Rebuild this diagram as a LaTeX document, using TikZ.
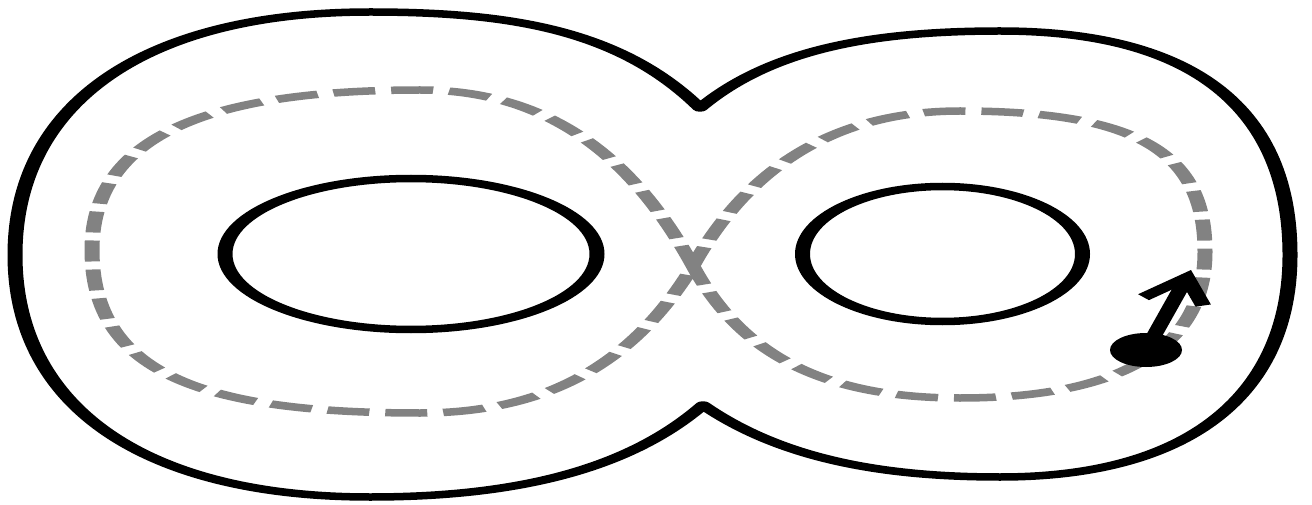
\documentclass[tikz,border=0pt]{standalone}
\usetikzlibrary{arrows.meta,shapes.geometric}
\definecolor{trackgray}{RGB}{130,130,130}
\begin{document}
\begin{tikzpicture}[x=1pt,y=-1pt,
  outline/.style={line width=7.5pt,black,line join=round},
  track/.style={line width=7.5pt,draw=trackgray,dash pattern=on 21pt off 8pt},
  puck/.style={ellipse,fill=black,minimum width=36pt,minimum height=34pt,inner sep=0pt},
  velocity/.style={line width=8pt,-{Straight Barb[length=25pt,width=31pt]}}]
\useasboundingbox (0,0) rectangle (1312,505);
\begin{scope}[x=0.5pt,transform canvas={xscale=2}]
% outer boundary
\draw[outline] (700,108) .. controls (620,30) and (510,12) .. (370,12)
  .. controls (150,12) and (15,100) .. (15,255)
  .. controls (15,410) and (150,497) .. (370,497)
  .. controls (520,497) and (630,468) .. (703,405)
  .. controls (780,458) and (880,477) .. (1000,477)
  .. controls (1195,477) and (1290,390) .. (1290,255)
  .. controls (1290,110) and (1195,31) .. (1000,31)
  .. controls (870,31) and (770,50) .. cycle;
% holes
\draw[outline] (411,254) ellipse [x radius=186, y radius=75.5];
\draw[outline] (942.5,254) ellipse [x radius=140, y radius=67.5];
% dashed figure eight
\coordinate (C) at (693,266);
\draw[track] (C) .. controls (640,170) and (560,90) .. (420,90)
  .. controls (200,90) and (92,140) .. (92,250)
  .. controls (92,372) and (200,413) .. (420,413)
  .. controls (560,413) and (640,352) .. (C)
  .. controls (740,182) and (820,111) .. (960,111)
  .. controls (1150,111) and (1205,160) .. (1205,252)
  .. controls (1205,342) and (1130,398) .. (960,398)
  .. controls (820,398) and (740,352) .. (C);
% particle and velocity
\node[puck] (dot) at (1146,350) {};
\coordinate (tip) at (1191,270);
\draw[velocity] (dot.center) -- (tip);
\end{scope}
\end{tikzpicture}
\end{document}
